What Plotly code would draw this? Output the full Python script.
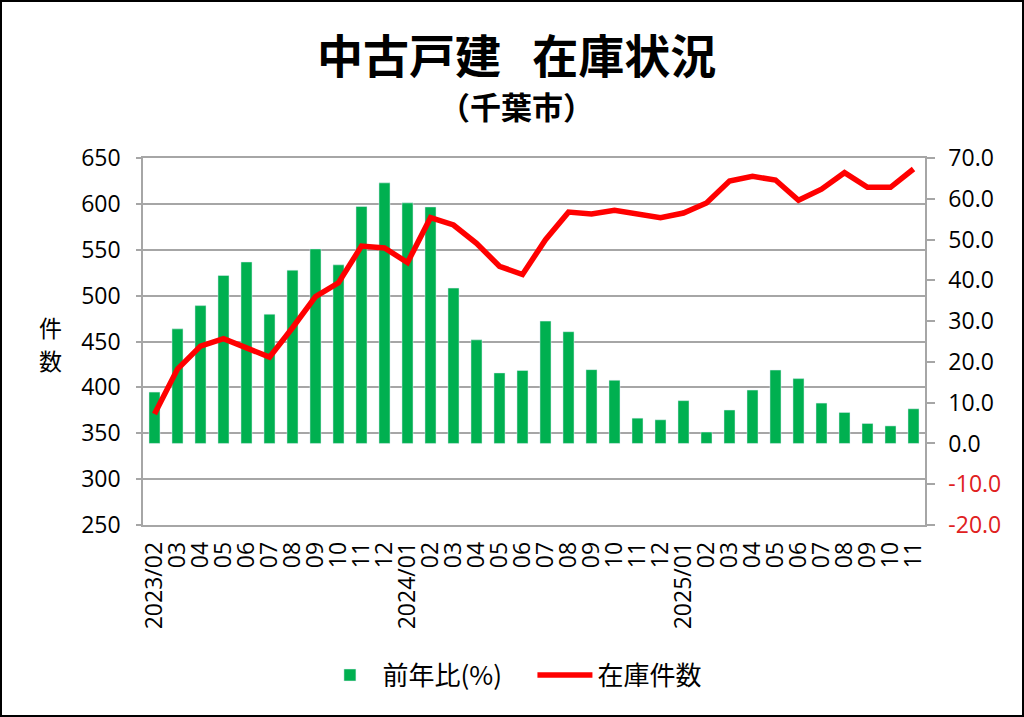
import plotly.graph_objects as go

# ---- data ----
months = [
    "2023/02", "2023/03", "2023/04", "2023/05", "2023/06", "2023/07", "2023/08", "2023/09",
    "2023/10", "2023/11", "2023/12",
    "2024/01", "2024/02", "2024/03", "2024/04", "2024/05", "2024/06", "2024/07", "2024/08",
    "2024/09", "2024/10", "2024/11", "2024/12",
    "2025/01", "2025/02", "2025/03", "2025/04", "2025/05", "2025/06", "2025/07", "2025/08",
    "2025/09", "2025/10", "2025/11",
]
tick_labels = [
    "2023/02", "03", "04", "05", "06", "07", "08", "09", "10", "11", "12",
    "2024/01", "02", "03", "04", "05", "06", "07", "08", "09", "10", "11", "12",
    "2025/01", "02", "03", "04", "05", "06", "07", "08", "09", "10", "11",
]
yoy_pct = [
    12.6, 28.1, 33.8, 41.2, 44.5, 31.7, 42.5, 47.7, 43.8, 58.1, 63.9,
    59.0, 58.0, 38.1, 25.4, 17.3, 17.9, 30.0, 27.4, 18.1, 15.5, 6.2, 5.8,
    10.5, 2.8, 8.2, 13.1, 18.0, 15.9, 9.9, 7.6, 4.9, 4.3, 8.5,
]
stock_count = [
    371, 420, 445, 453, 443, 433, 465, 499, 514, 554, 552,
    536, 585, 577, 557, 532, 523, 561, 591, 589, 593, 589, 585,
    590, 601, 625, 630, 626, 604, 616, 634, 618, 618, 638,
]
right_ticks = [70, 60, 50, 40, 30, 20, 10, 0, -10, -20]
left_ticks = [650, 600, 550, 500, 450, 400, 350, 300, 250]

FONT = "Noto Sans CJK JP"
NUMFONT = "Open Sans"
GRID = "#A6A6A6"

right_text = [
    (f"<span style='color:#E02020'>{v:.1f}</span>" if v < 0 else f"{v:.1f}")
    for v in right_ticks
]

fig = go.Figure()
fig.add_trace(go.Bar(
    x=months, y=yoy_pct, name="前年比(%)", marker_color="#00B050",
    yaxis="y",
))
fig.add_trace(go.Scatter(
    x=months, y=stock_count, name="在庫件数", mode="lines",
    line=dict(color="#FF0000", width=5.5), yaxis="y2",
))

fig.update_layout(
    width=1024, height=717,
    margin=dict(l=143, r=99, t=158, b=192),
    paper_bgcolor="white", plot_bgcolor="white",
    font=dict(family=FONT, size=22, color="black"),
    bargap=0.52,
    showlegend=True,
    legend=dict(orientation="h", x=0.498, xanchor="center", y=-0.409, yanchor="middle",
                font=dict(size=26, family=FONT), itemwidth=55, entrywidth=145,
                traceorder="normal"),
    xaxis=dict(
        type="category", tickmode="array", tickvals=months, ticktext=tick_labels,
        tickangle=-90, showline=True, linecolor=GRID, linewidth=1.5, mirror=True,
        showgrid=False, ticks="", tickfont=dict(size=23, family=NUMFONT), ticklabelstandoff=6,
    ),
    yaxis=dict(
        side="right", range=[-20, 70], tickmode="array", tickvals=right_ticks,
        ticktext=right_text, showgrid=False, zeroline=False,
        ticks="outside", ticklen=8, tickcolor=GRID, tickwidth=1.5,
        showline=True, linecolor=GRID, linewidth=1.5,
        tickfont=dict(size=23, family=NUMFONT), ticklabelstandoff=9,
    ),
    yaxis2=dict(
        side="left", overlaying="y", range=[250, 650], tickmode="array",
        tickvals=left_ticks, showgrid=True, gridcolor=GRID, gridwidth=1.5,
        zeroline=False, ticks="outside", ticklen=5, tickcolor=GRID, tickwidth=1.5,
        showline=True, linecolor=GRID, linewidth=1.5,
        tickfont=dict(size=23, family=NUMFONT), ticklabelstandoff=11,
    ),
    annotations=[
        dict(text="<b>中古戸建&nbsp;&nbsp;&nbsp;在庫状況</b>", x=0.4776, y=(525 - 53) / 367,
             xref="paper", yref="paper", showarrow=False,
             font=dict(size=46, family=FONT), xanchor="center", yanchor="middle"),
        dict(text="<b>（千葉市）</b>", x=0.4776, y=(525 - 105) / 367, xref="paper", yref="paper",
             showarrow=False, font=dict(size=31, family=FONT), xanchor="center", yanchor="middle"),
        dict(text="件", x=(50 - 143) / 782, y=(525 - 327) / 367, xref="paper", yref="paper",
             showarrow=False, font=dict(size=23, family=FONT), xanchor="center", yanchor="middle",
             borderpad=0),
        dict(text="数", x=(50 - 143) / 782, y=(525 - 360) / 367, xref="paper", yref="paper",
             showarrow=False, font=dict(size=23, family=FONT), xanchor="center", yanchor="middle",
             borderpad=0),
    ],
    shapes=[
        dict(type="rect", xref="paper", yref="paper",
             x0=(1 - 143) / 782, x1=(1023 - 143) / 782,
             y0=(525 - 716) / 367, y1=(525 - 1) / 367,
             line=dict(color="black", width=2), fillcolor="rgba(0,0,0,0)", layer="below"),
    ],
)

fig.write_html(
    "out.html",
    config={"displayModeBar": False},
    post_script="document.body.style.margin='0';document.body.style.overflow='hidden';",
)
